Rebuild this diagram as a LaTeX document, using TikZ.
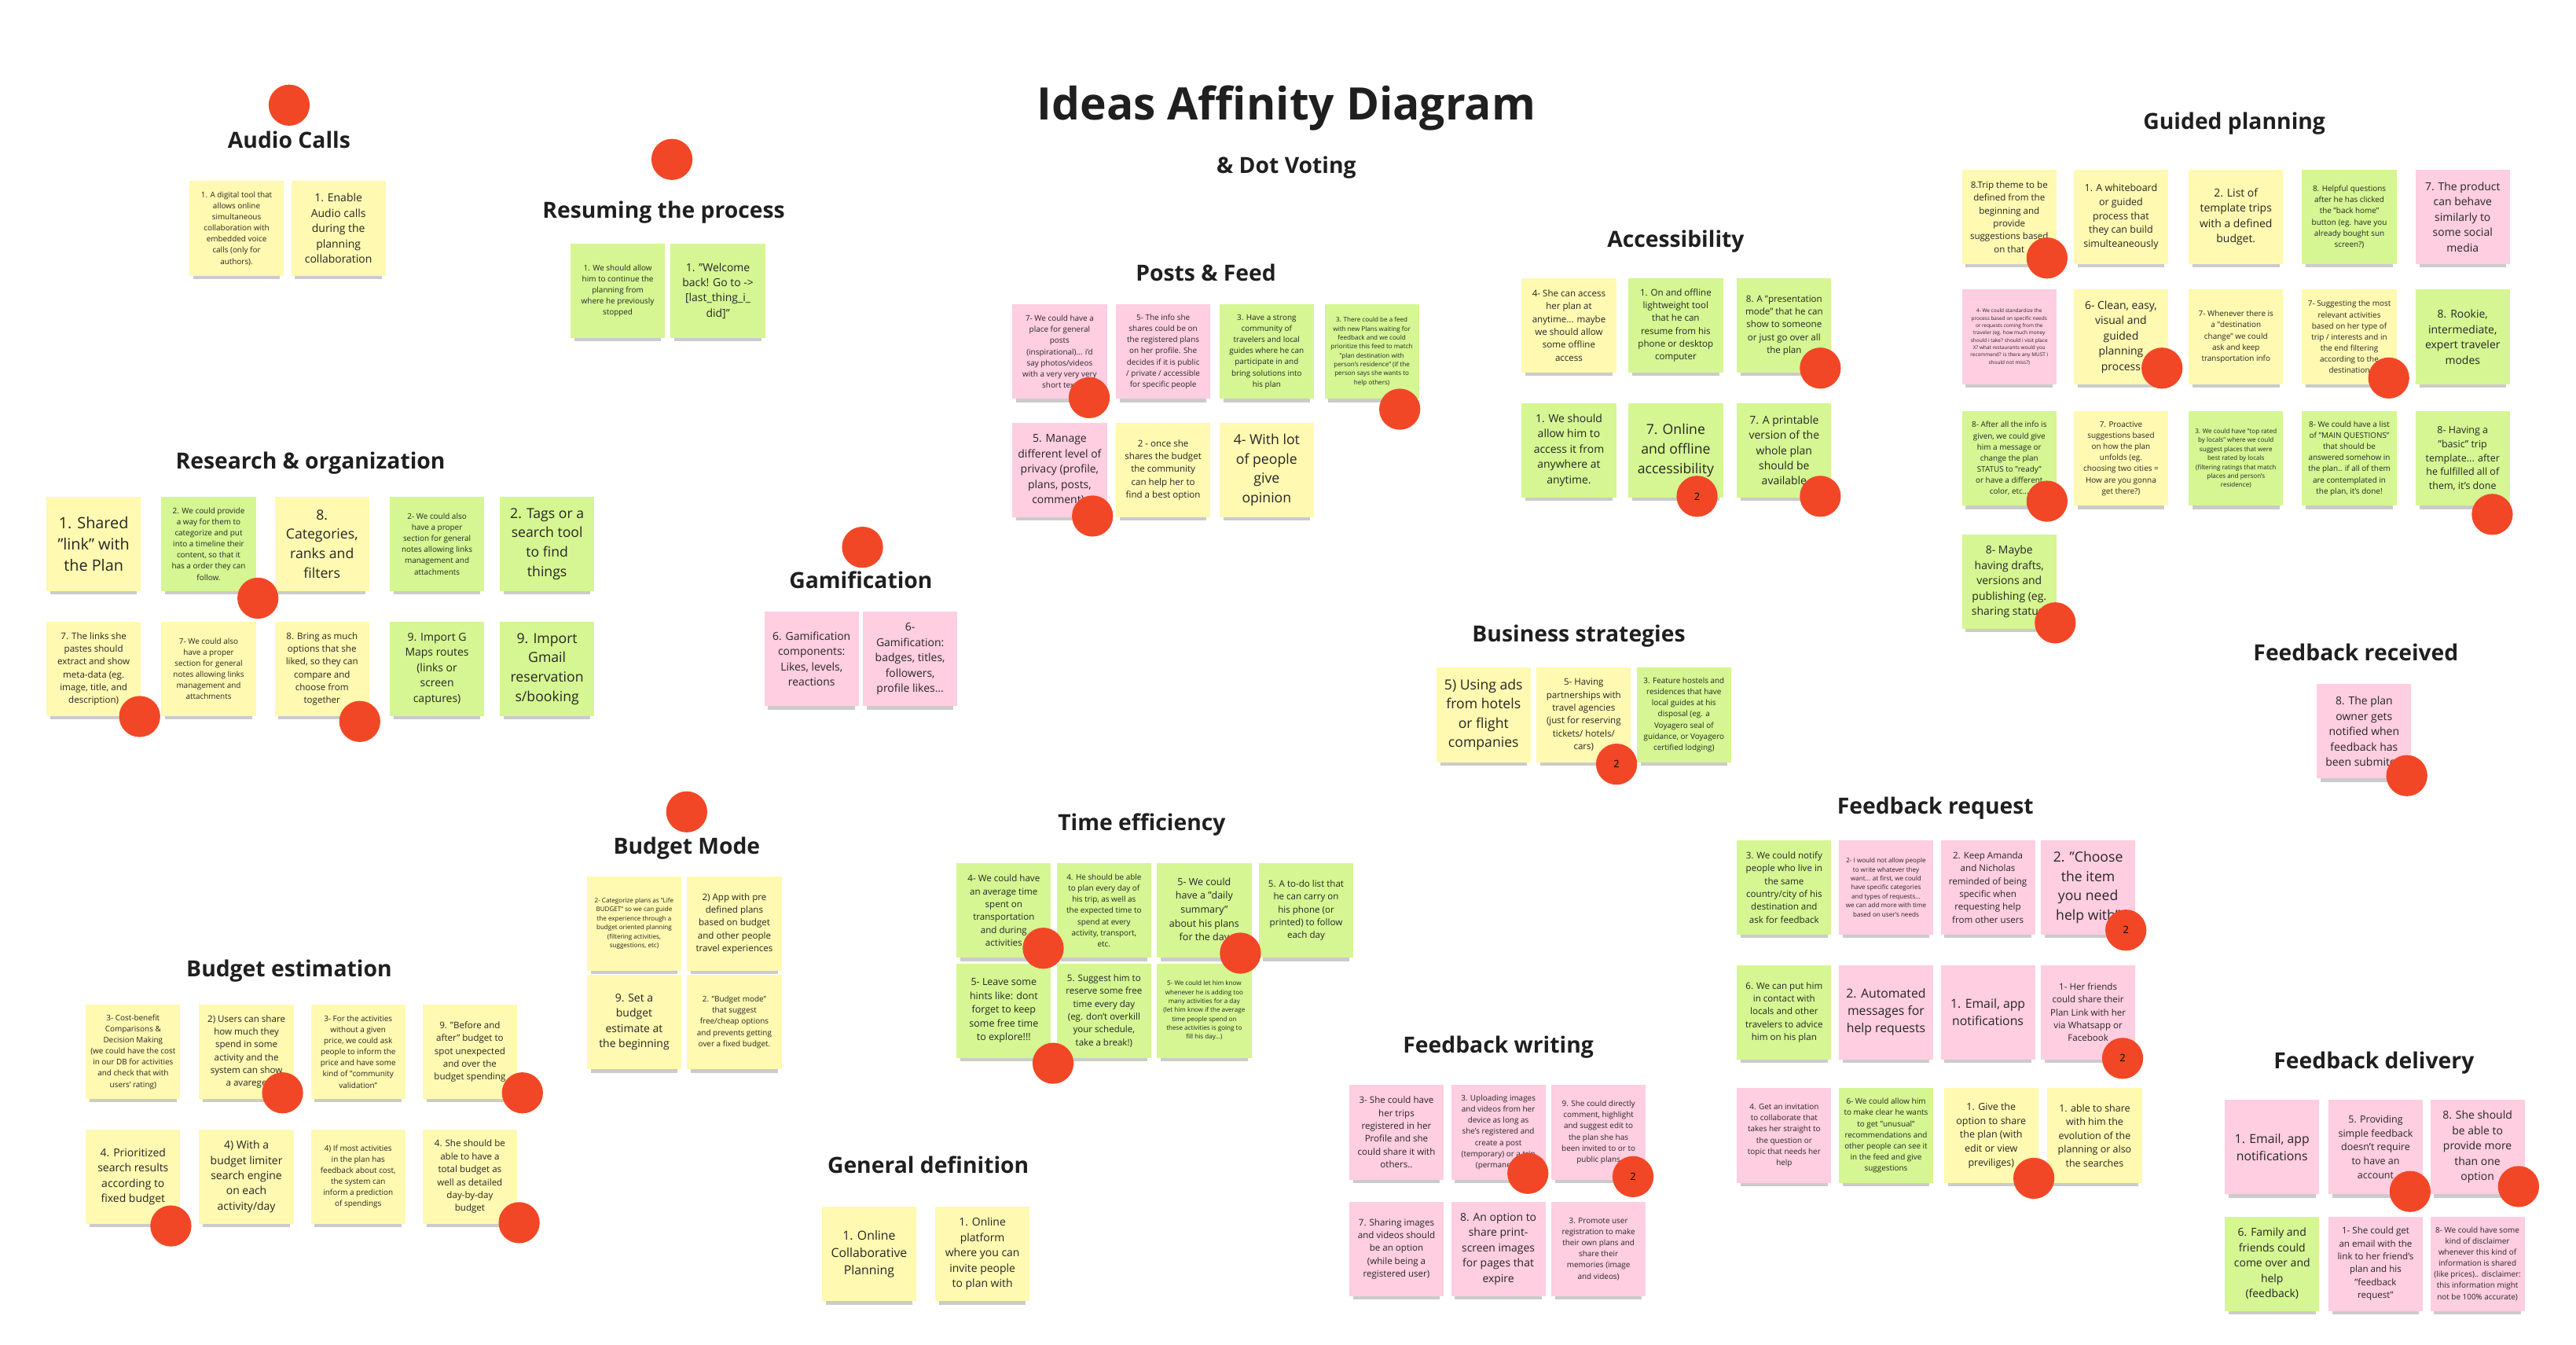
\documentclass[tikz,border=0pt]{standalone}
\usepackage{fontspec}
\setmainfont{Open Sans}
\usetikzlibrary{shadows}
\definecolor{yel}{HTML}{FFF9B1}
\definecolor{grn}{HTML}{D5F692}
\definecolor{pnk}{HTML}{FFCEE0}
\definecolor{vred}{HTML}{F24726}
\begin{document}
\begin{tikzpicture}[x=0.2mm,y=-0.2mm,
  note/.style={fill=#1,minimum width=11.5mm,minimum height=11.5mm,inner sep=0.4mm,align=center,text=black!85,
    general shadow={fill=black!45,shadow yshift=-0.95mm,shadow scale=0.92,opacity=0.45}},
  tA/.style={font=\fontsize{5.4}{7.4}\selectfont},
  tB/.style={font=\fontsize{4.8}{6.7}\selectfont},
  tBC/.style={font=\fontsize{4.3}{6.0}\selectfont},
  tC/.style={font=\fontsize{3.8}{5.3}\selectfont},
  tCD/.style={font=\fontsize{3.4}{4.8}\selectfont},
  tD/.style={font=\fontsize{3.15}{4.45}\selectfont},
  tE/.style={font=\fontsize{2.7}{3.85}\selectfont},
  tF/.style={font=\fontsize{2.2}{3.1}\selectfont},
  tG/.style={font=\fontsize{1.75}{2.55}\selectfont},
  head/.style={font=\bfseries\fontsize{7.7}{9}\selectfont,text=black!88},
  vote/.style={circle,fill=vred,minimum size=5mm,inner sep=0,font=\fontsize{3.5}{4}\selectfont}]
  \fill[white] (0,0) rectangle (1568,818);
  \useasboundingbox (0,0) rectangle (1568,818);
  \node[font=\bfseries\fontsize{15.5}{18}\selectfont,text=black!88] (title) at (783,66) {Ideas Affinity Diagram};
  \node[head] (subtitle) at (783,102) {\& Dot Voting};
  \foreach \x/\y/\t [count=\i] in {176/85/Audio Calls,404/129/Resuming the process,189/282/Research \& organization,
      524/353/Gamification,418/516/Budget Mode,176/591/Budget estimation,734/166/Posts \& Feed,695/502/Time efficiency,
      565/709/General definition,1020/147/Accessibility,961/387/Business strategies,1360/75/Guided planning,
      1434/397/Feedback received,1178/492/Feedback request,912/637/Feedback writing,1445/647/Feedback delivery}
    \node[head] (h\i) at (\x,\y) {\t};
  \node[note=yel,tE] (au1) at (144,139) {1. A digital tool that\\allows online\\simultaneous\\collaboration with\\embedded voice\\calls (only for\\authors).};
  \node[note=yel,tC] (au2) at (206,139) {1. Enable\\Audio calls\\during the\\planning\\collaboration};
  \node[note=grn,tE] (rp1) at (376,177) {1. We should allow\\him to continue the\\planning from\\where he previously\\stopped};
  \node[note=grn,tC] (rp2) at (437,177) {1. "Welcome\\back! Go to ->\\{}[last\_thing\_i\_\\did]"};
  \node[note=yel,tA] (ro1) at (57,331) {1. Shared\\"link" with\\the Plan};
  \node[note=grn,tE] (ro2) at (127,331) {2. We could provide\\a way for them to\\categorize and put\\into a timeline their\\content, so that it\\has a order they can\\follow.};
  \node[note=yel,tB] (ro3) at (196,331) {8.\\Categories,\\ranks and\\filters};
  \node[note=grn,tE] (ro4) at (266,331) {2- We could also\\have a proper\\section for general\\notes allowing links\\management and\\attachments};
  \node[note=grn,tB] (ro5) at (333,331) {2. Tags or a\\search tool\\to find\\things};
  \node[note=yel,tD] (ro6) at (57,407) {7. The links she\\pastes should\\extract and show\\meta-data (eg.\\image, title, and\\description)};
  \node[note=yel,tE] (ro7) at (127,407) {7- We could also\\have a proper\\section for general\\notes allowing links\\management and\\attachments};
  \node[note=yel,tD] (ro8) at (196,407) {8. Bring as much\\options that she\\liked, so they can\\compare and\\choose from\\together};
  \node[note=grn,tC] (ro9) at (266,407) {9. Import G\\Maps routes\\(links or\\screen\\captures)};
  \node[note=grn,tB] (ro10) at (333,407) {9. Import\\Gmail\\reservation\\s/booking};
  \node[note=yel,tE] (be1) at (81,640) {3- Cost-benefit\\Comparisons \&\\Decision Making\\(we could have the cost\\in our DB for activities\\and check that with\\users' rating)};
  \node[note=yel,tD] (be2) at (150,640) {2) Users can share\\how much they\\spend in some\\activity and the\\system can show\\a avarege};
  \node[note=yel,tE] (be3) at (218,640) {3- For the activities\\without a given\\price, we could ask\\people to inform the\\price and have some\\kind of "community\\validation"};
  \node[note=yel,tD] (be4) at (286,640) {9. "Before and\\after" budget to\\spot unexpected\\and over the\\budget spending};
  \node[note=yel,tC] (be5) at (81,716) {4. Prioritized\\search results\\according to\\fixed budget};
  \node[note=yel,tC] (be6) at (150,716) {4) With a\\budget limiter\\search engine\\on each\\activity/day};
  \node[note=yel,tE] (be7) at (218,716) {4) If most activities\\in the plan has\\feedback about cost,\\the system can\\inform a prediction\\of spendings};
  \node[note=yel,tD] (be8) at (286,716) {4. She should be\\able to have a\\total budget as\\well as detailed\\day-by-day\\budget};
  \node[note=yel,tF] (bm1) at (386,562) {2- Categorize plans as "Life\\BUDGET" so we can guide\\the experience through a\\budget oriented planning\\(filtering activities,\\suggestions, etc)};
  \node[note=yel,tD] (bm2) at (447,562) {2) App with pre\\defined plans\\based on budget\\and other people\\travel experiences};
  \node[note=yel,tC] (bm3) at (386,622) {9. Set a\\budget\\estimate at\\the beginning};
  \node[note=yel,tE] (bm4) at (447,622) {2. "Budget mode"\\that suggest\\free/cheap options\\and prevents getting\\over a fixed budget.};
  \node[note=pnk,tC] (ga1) at (494,401) {6. Gamification\\components:\\Likes, levels,\\reactions};
  \node[note=pnk,tC] (ga2) at (554,401) {6-\\Gamification:\\badges, titles,\\followers,\\profile likes...};
  \node[note=pnk,tE] (pf1) at (645,214) {7- We could have a\\place for general\\posts\\(inspirational)... i'd\\say photos/videos\\with a very very very\\short text};
  \node[note=pnk,tE] (pf2) at (708,214) {5- The info she\\shares could be on\\the registered plans\\on her profile. She\\decides if it is public\\/ private / accessible\\for specific people};
  \node[note=grn,tE] (pf3) at (771,214) {3. Have a strong\\community of\\travelers and local\\guides where he can\\participate in and\\bring solutions into\\his plan};
  \node[note=grn,tF] (pf4) at (835,214) {3. There could be a feed\\with new Plans waiting for\\feedback and we could\\prioritize this feed to match\\"plan destination with\\person's residence" (if the\\person says she wants to\\help others)};
  \node[note=pnk,tC] (pf5) at (645,286) {5. Manage\\different level of\\privacy (profile,\\plans, posts,\\comment).};
  \node[note=yel,tD] (pf6) at (708,286) {2 - once she\\shares the budget\\the community\\can help her to\\find a best option};
  \node[note=yel,tB] (pf7) at (771,286) {4- With lot\\of people\\give\\opinion};
  \node[note=grn,tD] (te1) at (611,554) {4- We could have\\an average time\\spent on\\transportation\\and during\\activities};
  \node[note=grn,tE] (te2) at (672,554) {4. He should be able\\to plan every day of\\his trip, as well as\\the expected time to\\spend at every\\activity, transport,\\etc.};
  \node[note=grn,tCD] (te3) at (733,554) {5- We could\\have a "daily\\summary"\\about his plans\\for the day};
  \node[note=grn,tD] (te4) at (795,554) {5. A to-do list that\\he can carry on\\his phone (or\\printed) to follow\\each day};
  \node[note=grn,tCD] (te5) at (611,615) {5- Leave some\\hints like: dont\\forget to keep\\some free time\\to explore!!!};
  \node[note=grn,tD] (te6) at (672,615) {5. Suggest him to\\reserve some free\\time every day\\(eg. don't overkill\\your schedule,\\take a break!)};
  \node[note=grn,tF] (te7) at (733,615) {5- We could let him know\\whenever he is adding too\\many activities for a day\\(let him know if the average\\time people spend on\\these activities is going to\\fill his day...)};
  \node[note=yel,tBC] (gd1) at (529,763) {1. Online\\Collaborative\\Planning};
  \node[note=yel,tC] (gd2) at (598,763) {1. Online\\platform\\where you can\\invite people\\to plan with};
  \node[note=yel,tD] (ac1) at (955,198) {4- She can access\\her plan at\\anytime... maybe\\we should allow\\some offline\\access};
  \node[note=grn,tD] (ac2) at (1020,198) {1. On and offline\\lightweight tool\\that he can\\resume from his\\phone or desktop\\computer};
  \node[note=grn,tD] (ac3) at (1086,198) {8. A "presentation\\mode" that he can\\show to someone\\or just go over all\\the plan};
  \node[note=grn,tC] (ac4) at (955,274) {1. We should\\allow him to\\access it from\\anywhere at\\anytime.};
  \node[note=grn,tB] (ac5) at (1020,274) {7. Online\\and offline\\accessibility};
  \node[note=grn,tC] (ac6) at (1086,274) {7. A printable\\version of the\\whole plan\\should be\\available};
  \node[note=yel,tB] (bs1) at (903,435) {5) Using ads\\from hotels\\or flight\\companies};
  \node[note=yel,tD] (bs2) at (964,435) {5- Having\\partnerships with\\travel agencies\\(just for reserving\\tickets/ hotels/\\cars)};
  \node[note=grn,tE] (bs3) at (1025,435) {3. Feature hostels and\\residences that have\\local guides at his\\disposal (eg. a\\Voyagero seal of\\guidance, or Voyagero\\certified lodging)};
  \node[note=yel,tD] (gp1) at (1223,132) {8.Trip theme to be\\defined from the\\beginning and\\provide\\suggestions based\\on that};
  \node[note=yel,tCD] (gp2) at (1291,132) {1. A whiteboard\\or guided\\process that\\they can build\\simulteaneously};
  \node[note=yel,tC] (gp3) at (1361,132) {2. List of\\template trips\\with a defined\\budget.};
  \node[note=grn,tE] (gp4) at (1430,132) {8. Helpful questions\\after he has clicked\\the "back home"\\button (eg. have you\\already bought sun\\screen?)};
  \node[note=pnk,tC] (gp5) at (1499,132) {7. The product\\can behave\\similarly to\\some social\\media};
  \node[note=pnk,tG] (gp6) at (1223,205) {4- We could standardize the\\process based on specific needs\\or requests coming from the\\traveler (eg. how much money\\should i take? should i visit place\\X? what restaurants would you\\recommend? is there any MUST i\\should not miss?)};
  \node[note=yel,tC] (gp7) at (1291,205) {6- Clean, easy,\\visual and\\guided\\planning\\process};
  \node[note=yel,tE] (gp8) at (1361,205) {7- Whenever there is\\a "destination\\change" we could\\ask and keep\\transportation info};
  \node[note=yel,tE] (gp9) at (1430,205) {7- Suggesting the most\\relevant activities\\based on her type of\\trip / interests and in\\the end filtering\\according to the\\destination};
  \node[note=grn,tC] (gp10) at (1499,205) {8. Rookie,\\intermediate,\\expert traveler\\modes};
  \node[note=grn,tE] (gp11) at (1223,279) {8- After all the info is\\given, we could give\\him a message or\\change the plan\\STATUS to "ready"\\or have a different\\color, etc...};
  \node[note=yel,tE] (gp12) at (1291,279) {7. Proactive\\suggestions based\\on how the plan\\unfolds (eg.\\choosing two cities =\\How are you gonna\\get there?)};
  \node[note=grn,tF] (gp13) at (1361,279) {3. We could have "top rated\\by locals" where we could\\suggest places that were\\best rated by locals\\(filtering ratings that match\\places and person's\\residence)};
  \node[note=grn,tE] (gp14) at (1430,279) {8- We could have a list\\of "MAIN QUESTIONS"\\that should be\\answered somehow in\\the plan.. if all of them\\are contemplated in\\the plan, it's done!};
  \node[note=grn,tCD] (gp15) at (1499,279) {8- Having a\\"basic" trip\\template... after\\he fulfilled all of\\them, it's done};
  \node[note=grn,tC] (gp16) at (1223,354) {8- Maybe\\having drafts,\\versions and\\publishing (eg.\\sharing status)};
  \node[note=pnk,tC] (fr1) at (1439,445) {8. The plan\\owner gets\\notified when\\feedback has\\been submited};
  \node[note=grn,tD] (rq1) at (1086,540) {3. We could notify\\people who live in\\the same\\country/city of his\\destination and\\ask for feedback};
  \node[note=pnk,tF] (rq2) at (1148,540) {2- I would not allow people\\to write whatever they\\want... at first, we could\\have specific categories\\and types of requests...\\we can add more with time\\based on user's needs};
  \node[note=pnk,tD] (rq3) at (1210,540) {2. Keep Amanda\\and Nicholas\\reminded of being\\specific when\\requesting help\\from other users};
  \node[note=pnk,tB] (rq4) at (1271,540) {2. "Choose\\the item\\you need\\help with"};
  \node[note=grn,tD] (rq5) at (1086,616) {6. We can put him\\in contact with\\locals and other\\travelers to advice\\him on his plan};
  \node[note=pnk,tBC] (rq6) at (1148,616) {2. Automated\\messages for\\help requests};
  \node[note=pnk,tBC] (rq7) at (1210,616) {1. Email, app\\notifications};
  \node[note=pnk,tD] (rq8) at (1271,616) {1- Her friends\\could share their\\Plan Link with her\\via Whatsapp or\\Facebook};
  \node[note=pnk,tE] (rq9) at (1086,691) {4. Get an invitation\\to collaborate that\\takes her straight to\\the question or\\topic that needs her\\help};
  \node[note=grn,tE] (rq10) at (1148,691) {6- We could allow him\\to make clear he wants\\to get "unusual"\\recommendations and\\other people can see it\\in the feed and give\\suggestions};
  \node[note=yel,tCD] (rq11) at (1212,691) {1. Give the\\option to share\\the plan (with\\edit or view\\previliges)};
  \node[note=yel,tCD] (rq12) at (1275,691) {1. able to share\\with him the\\evolution of the\\planning or also\\the searches};
  \node[note=pnk,tD] (fw1) at (850,689) {3- She could have\\her trips\\registered in her\\Profile and she\\could share it with\\others..};
  \node[note=pnk,tE] (fw2) at (912,689) {3. Uploading images\\and videos from her\\device as long as\\she's registered and\\create a post\\(temporary) or a trip\\(permanent)};
  \node[note=pnk,tE] (fw3) at (973,689) {9. She could directly\\comment, highlight\\and suggest edit to\\the plan she has\\been invited to or to\\public plans};
  \node[note=pnk,tD] (fw4) at (850,760) {7. Sharing images\\and videos should\\be an option\\(while being a\\registered user)};
  \node[note=pnk,tC] (fw5) at (912,760) {8. An option to\\share print-\\screen images\\for pages that\\expire};
  \node[note=pnk,tE] (fw6) at (973,760) {3. Promote user\\registration to make\\their own plans and\\share their\\memories (image\\and videos)};
  \node[note=pnk,tBC] (fd1) at (1383,698) {1. Email, app\\notifications};
  \node[note=pnk,tCD] (fd2) at (1446,698) {5. Providing\\simple feedback\\doesn't require\\to have an\\account};
  \node[note=pnk,tC] (fd3) at (1508,698) {8. She should\\be able to\\provide more\\than one\\option};
  \node[note=grn,tC] (fd4) at (1383,769) {6. Family and\\friends could\\come over and\\help\\(feedback)};
  \node[note=pnk,tD] (fd5) at (1446,769) {1- She could get\\an email with the\\link to her friend's\\plan and his\\"feedback\\request"};
  \node[note=pnk,tE] (fd6) at (1508,769) {8- We could have some\\kind of disclaimer\\whenever this kind of\\information is shared\\(like prices).. disclaimer:\\this information might\\not be 100\% accurate)};
  \foreach \x/\y [count=\i] in {176/64,409/97,525/333,418/494,157/364,85/436,219/439,172/665,318/665,104/746,316/744,
      663/242,852/249,665/314,635/577,755/580,641/647,1108/224,1108/302,1246/157,1316/224,1454/230,1246/305,
      1517/313,1251/379,1465/472,1238/717,930/714,1467/725,1533/722}
    \node[vote] (dot\i) at (\x,\y) {};
  \foreach \x/\y [count=\i] in {1033/302,984/465,1294/566,1292/644,994/716}
    \node[vote] (two\i) at (\x,\y) {2};
\end{tikzpicture}
\end{document}
